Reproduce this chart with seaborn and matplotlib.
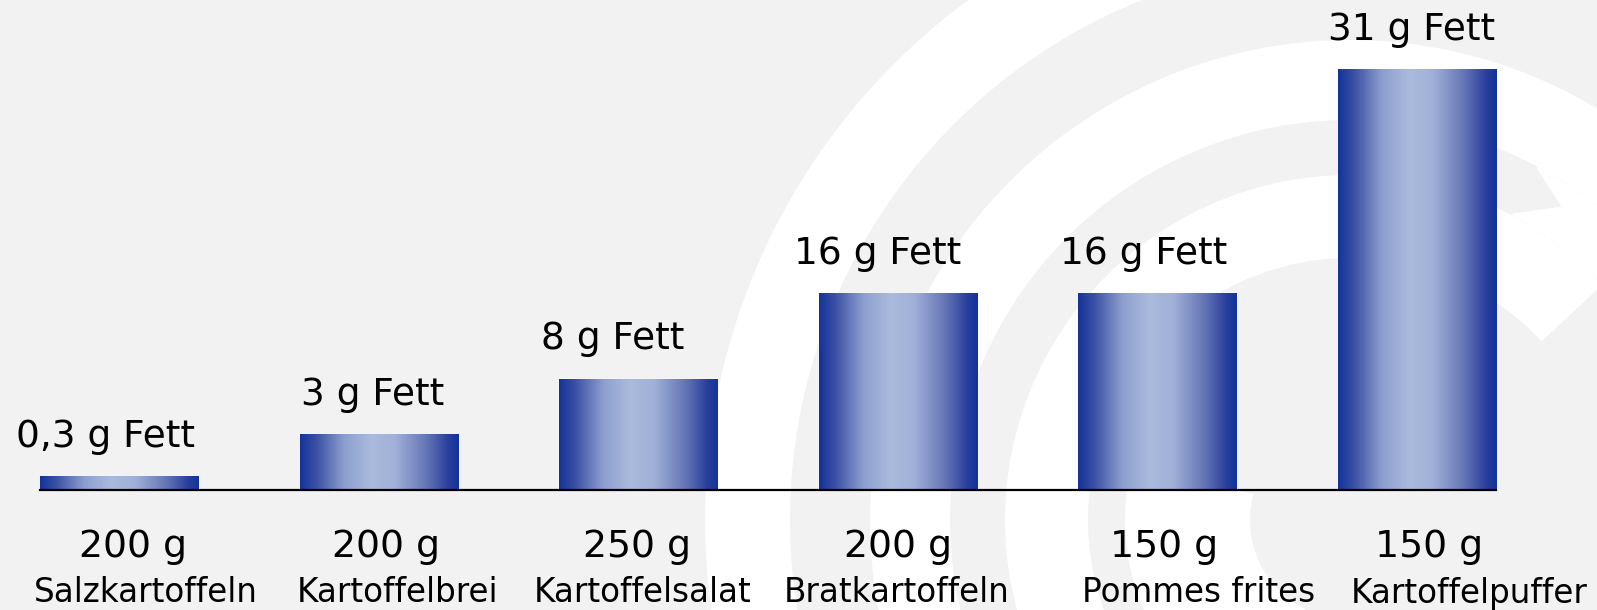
import numpy as np
import pandas as pd
import matplotlib.pyplot as plt
import seaborn as sns
from matplotlib.colors import LinearSegmentedColormap
from matplotlib.patches import Wedge, Polygon

# Daten aus dem Bild
gerichte = ['Salzkartoffeln', 'Kartoffelbrei', 'Kartoffelsalat',
            'Bratkartoffeln', 'Pommes frites', 'Kartoffelpuffer']
portion = ['200 g', '200 g', '250 g', '200 g', '150 g', '150 g']
fett = ['0,3', '3', '8', '16', '16', '31']
# Balkenhöhen so abgelesen, wie sie im Bild stehen (nicht streng maßstäblich)
hoehe = [1.0, 4.1, 8.2, 14.5, 14.5, 31.0]

df = pd.DataFrame({'Gericht': gerichte, 'Hoehe': hoehe})

# kleine Verschiebungen der Beschriftungen (Pixel), wie im Original gesetzt
versatz_fett = [0, 8, -11, -6, 0, 8]
versatz_portion = [7, 0, -8, -7, 0, 5]
versatz_name = [3, -5, -19, -24, 17, 28]

sns.set_theme(style='white')
plt.rcParams['font.family'] = ['DejaVu Sans']

fig = plt.figure(figsize=(15.97, 6.10), dpi=100)
fig.patch.set_facecolor('#f2f2f2')

# Hintergrund: weiße Bögen (Wasserzeichen)
bg = fig.add_axes([0, 0, 1, 1], zorder=0)
bg.set_xlim(0, 1597)
bg.set_ylim(0, 610)
bg.axis('off')
mitte = np.array([1350, 90])
ringe = [(560, 645, 75, 270), (400, 480, 43, 270), (262, 345, 43, 260),
         (345, 400, 43, 62), (100, 225, 165, 275)]
for r_in, r_out, t1, t2 in ringe:
    bg.add_patch(Wedge(mitte, r_out, t1, t2, width=r_out - r_in,
                       facecolor='white', edgecolor='none'))


def polar(r, t):
    t = np.deg2rad(t)
    return mitte + r * np.array([np.cos(t), np.sin(t)])


# Pfeilspitze am Ende des grauen Rings
bg.add_patch(Polygon([polar(345, 62.5), polar(400, 62.5), polar(378, 56)],
                     closed=True, facecolor='#f2f2f2', edgecolor='none'))

# Balken
ax = fig.add_axes([40 / 1597, 120 / 610, 1456 / 1597, 462 / 610], zorder=1)
ax.patch.set_alpha(0)
sns.barplot(data=df, x='Gericht', y='Hoehe', ax=ax, width=0.61,
            color='#13339a', saturation=1)

verlauf = LinearSegmentedColormap.from_list('verlauf', [
    (0.0, '#13339a'), (0.1, '#3b50a3'), (0.28, '#8d9fcf'), (0.45, '#abbbdd'),
    (0.6, '#a0b0d8'), (0.8, '#6374b4'), (0.93, '#2b409d'), (1.0, '#13339a')])
grad = np.linspace(0, 1, 256).reshape(1, -1)

px = 0.72 * 1.0185  # Pixel der Vorschau -> Punkte
for i, bar in enumerate(ax.patches):
    x0, w, h = bar.get_x(), bar.get_width(), bar.get_height()
    im = ax.imshow(grad, cmap=verlauf, extent=[x0, x0 + w, 0, h],
                   aspect='auto', zorder=2, interpolation='bicubic')
    im.set_clip_path(bar)
    cx = x0 + w / 2
    ax.annotate(f'{fett[i]} g Fett', (cx, h),
                xytext=(-10 + versatz_fett[i] * px, 21),
                textcoords='offset points', ha='center', va='baseline',
                fontsize=27, color='black', annotation_clip=False)
    ax.annotate(portion[i], (cx, 0),
                xytext=(5 + versatz_portion[i] * px, -48.5),
                textcoords='offset points', ha='center', va='baseline',
                fontsize=27.2, color='black', annotation_clip=False)
    ax.annotate(gerichte[i], (cx, 0),
                xytext=(17 + versatz_name[i] * px, -81),
                textcoords='offset points', ha='center', va='baseline',
                fontsize=23.5, color='black', annotation_clip=False)

ax.set_xlim(-0.305, 5.305)
ax.set_ylim(0, 34)
ax.set_xlabel('')
ax.set_ylabel('')
ax.set_xticks([])
ax.set_yticks([])
for s in ['top', 'left', 'right']:
    ax.spines[s].set_visible(False)
ax.spines['bottom'].set_color('black')
ax.spines['bottom'].set_linewidth(1.6)
ax.spines['bottom'].set_zorder(3)

fig.savefig('out.png', dpi=100)
